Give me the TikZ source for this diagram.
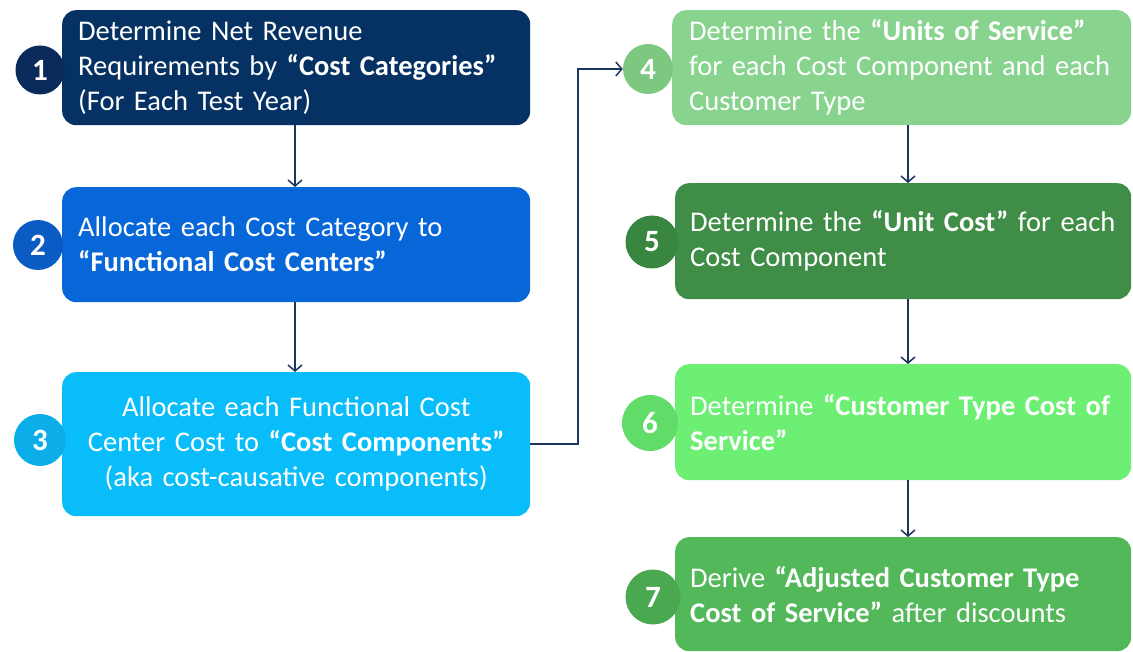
\documentclass[tikz,border=0pt]{standalone}
\usepackage{fontspec}
\setmainfont{Carlito}
\usetikzlibrary{arrows.meta}
\definecolor{b1c}{HTML}{063263}
\definecolor{n1c}{HTML}{0B2A5C}
\definecolor{b2c}{HTML}{0867D8}
\definecolor{n2c}{HTML}{0B5BC4}
\definecolor{b3c}{HTML}{08BDFA}
\definecolor{n3c}{HTML}{0BAEE8}
\definecolor{b4c}{HTML}{88D48E}
\definecolor{n4c}{HTML}{7DC881}
\definecolor{b5c}{HTML}{3F8D46}
\definecolor{n5c}{HTML}{388640}
\definecolor{b6c}{HTML}{6CEF72}
\definecolor{n6c}{HTML}{62DC69}
\definecolor{b7c}{HTML}{52B85A}
\definecolor{n7c}{HTML}{4AA851}
\definecolor{arrc}{HTML}{1B3560}
\begin{document}
\begin{tikzpicture}[x=1pt,y=-1pt,
  box/.style={rectangle, rounded corners=14pt, anchor=north west, text=white,
    font=\fontsize{28.5}{35}\selectfont, align=left, inner ysep=0pt},
  num/.style={circle, inner sep=0pt, text=white,
    font=\fontsize{31}{32}\selectfont\bfseries},
  arr/.style={draw=arrc, line width=1.5pt, -{Straight Barb[length=6pt,width=14pt,line width=1.5pt]}}]
\useasboundingbox (0,0) rectangle (1133,652);
% left column
\node[box, fill=b1c, minimum width=468pt, minimum height=115pt, text width=436pt, inner xsep=16pt] (b1) at (62,10)
  {Determine Net Revenue\\Requirements by \textbf{“Cost Categories”}\\(For Each Test Year)};
\node[box, fill=b2c, minimum width=468pt, minimum height=115pt, text width=436pt, inner xsep=16pt] (b2) at (62,187)
  {Allocate each Cost Category to\\\textbf{“Functional Cost Centers”}};
\node[box, fill=b3c, minimum width=468pt, minimum height=144pt, text width=436pt, inner xsep=16pt, align=center] (b3) at (62,372)
  {Allocate each Functional Cost\\Center Cost to \textbf{“Cost Components”}\\(aka cost-causative components)};
% right column
\node[box, fill=b4c, minimum width=459pt, minimum height=115pt, text width=425pt, inner xsep=17pt] (b4) at (672,10)
  {Determine the \textbf{“Units of Service”}\\\mbox{for each Cost Component and each}\\Customer Type};
\node[box, fill=b5c, minimum width=456pt, minimum height=116pt, text width=426pt, inner xsep=15pt] (b5) at (675,183)
  {\mbox{Determine the \textbf{“Unit Cost”} for each}\\Cost Component};
\node[box, fill=b6c, minimum width=456pt, minimum height=116pt, text width=426pt, inner xsep=15pt] (b6) at (675,364)
  {\mbox{Determine \textbf{“Customer Type Cost of}}\\\textbf{Service”}};
\node[box, fill=b7c, minimum width=456pt, minimum height=114pt, text width=426pt, inner xsep=15pt] (b7) at (675,537)
  {\mbox{Derive \textbf{“Adjusted Customer Type}}\\\mbox{\textbf{Cost of Service”} after discounts}};
% number circles
\node[num, fill=n1c, minimum size=49pt] (n1) at (40,70) {1};
\node[num, fill=n2c, minimum size=50pt] (n2) at (38,245) {2};
\node[num, fill=n3c, minimum size=52pt] (n3) at (40,440) {3};
\node[num, fill=n4c, minimum size=50pt] (n4) at (648,69) {4};
\node[num, fill=n5c, minimum size=53pt] (n5) at (652,242) {5};
\node[num, fill=n6c, minimum size=56pt] (n6) at (650,423) {6};
\node[num, fill=n7c, minimum size=55pt] (n7) at (653,597) {7};
% connectors
\coordinate (xl) at (295,0);
\coordinate (xr) at (908,0);
\coordinate (turn) at (578,0);
\draw[arr] (b1.south -| xl) -- (b2.north -| xl);
\draw[arr] (b2.south -| xl) -- (b3.north -| xl);
\draw[arr] (b3.east) -- (b3.east -| turn) |- (n4.west);
\draw[arr] (b4.south -| xr) -- (b5.north -| xr);
\draw[arr] (b5.south -| xr) -- (b6.north -| xr);
\draw[arr] (b6.south -| xr) -- (b7.north -| xr);
\end{tikzpicture}
\end{document}
